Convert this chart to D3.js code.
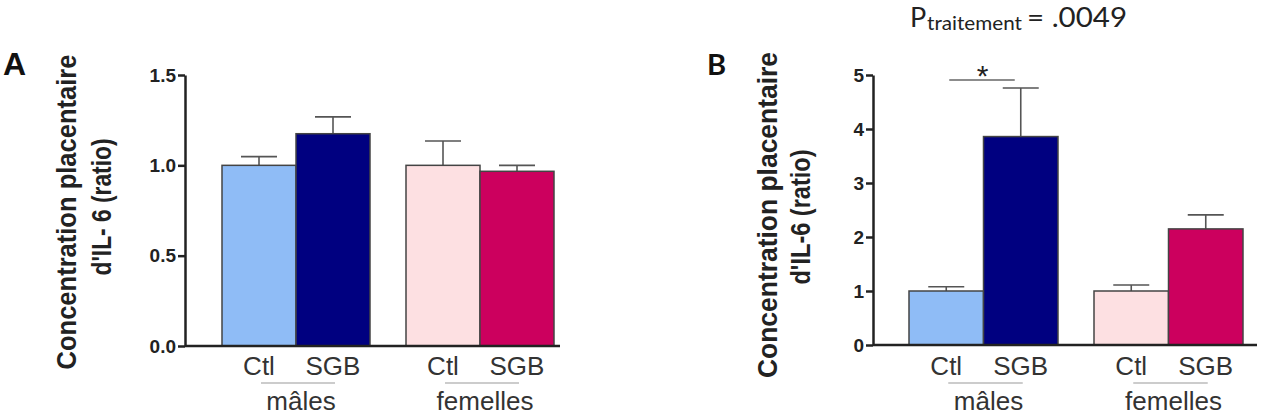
<!DOCTYPE html>
<html>
<head>
<meta charset="utf-8">
<script src="https://cdn.jsdelivr.net/npm/d3@7/dist/d3.min.js"></script>
<style>
  body { margin: 0; background: #fff; }
  svg { display: block; }
  .tick text { font-family: "Liberation Sans", Arial, sans-serif; font-weight: bold; font-size: 19px; fill: #222; }
</style>
</head>
<body>
<svg id="chart" width="1287" height="420"></svg>
<script>
  // data
  var groups = ["mâles", "femelles"];
  var conditions = ["Ctl", "SGB"];
  var colors = {
    "mâles": ["#8fbcf6", "#000080"],
    "femelles": ["#fde0e2", "#cc005e"]
  };

  // panel A : IL-6 ratio
  var meansA = [[1.0, 1.175], [1.0, 0.967]];
  var errA = [[1.048, 1.268], [1.135, 1.0]];
  var ticksA = [0, 0.5, 1.0, 1.5];

  // panel B : IL-6 ratio
  var meansB = [[1.0, 3.86], [1.0, 2.15]];
  var errB = [[1.08, 4.76], [1.11, 2.41]];
  var ticksB = [0, 1, 2, 3, 4, 5];

  var svg = d3.select("#chart");
  var font = '"Liberation Sans", Arial, sans-serif';

  function drawPanel(opt) {
    var g = svg.append("g");

    // y scale
    var y = d3.scaleLinear()
      .domain([0, opt.ticks[opt.ticks.length - 1]])
      .range([opt.y0, opt.y1]);

    // groups then conditions inside
    var step = opt.bw * 2 + opt.gap;
    var xg = d3.scaleBand()
      .domain(groups)
      .range([opt.x0, opt.x0 + step * (2 - opt.gap / step + 2 * opt.left / step)])
      .paddingInner(opt.gap / step)
      .paddingOuter(opt.left / step);
    var xc = d3.scaleBand()
      .domain(conditions)
      .range([0, xg.bandwidth()]);

    // error bars (upper only)
    groups.forEach(function(grp, gi) {
      conditions.forEach(function(c, ci) {
        var cx = xg(grp) + xc(c) + xc.bandwidth() / 2;
        g.append("line")
          .attr("x1", cx).attr("x2", cx)
          .attr("y1", y(opt.means[gi][ci])).attr("y2", y(opt.err[gi][ci]))
          .attr("stroke", "#555").attr("stroke-width", 1.6);
        g.append("line")
          .attr("x1", cx - 18).attr("x2", cx + 18)
          .attr("y1", y(opt.err[gi][ci])).attr("y2", y(opt.err[gi][ci]))
          .attr("stroke", "#555").attr("stroke-width", 1.6);
      });
    });

    // bars
    groups.forEach(function(grp, gi) {
      g.selectAll(null)
        .data(conditions)
        .enter().append("rect")
        .attr("x", function(c) { return xg(grp) + xc(c); })
        .attr("width", xc.bandwidth())
        .attr("y", function(c, ci) { return y(opt.means[gi][ci]); })
        .attr("height", function(c, ci) { return y(0) - y(opt.means[gi][ci]); })
        .attr("fill", function(c, ci) { return colors[grp][ci]; })
        .attr("stroke", "#444")
        .attr("stroke-width", 1.5);
    });

    // x axis baseline
    g.append("line")
      .attr("x1", opt.x0).attr("x2", opt.xEnd)
      .attr("y1", y(0)).attr("y2", y(0))
      .attr("stroke", "#222").attr("stroke-width", 2.5);

    // y axis
    var ya = g.append("g")
      .attr("transform", "translate(" + opt.x0 + ",0)")
      .call(d3.axisLeft(y).tickValues(opt.ticks).tickFormat(opt.fmt).tickSize(7).tickSizeOuter(0).tickPadding(2));
    ya.select(".domain").attr("stroke", "#222").attr("stroke-width", 2.5);
    ya.selectAll(".tick line").attr("stroke", "#222").attr("stroke-width", 2.5);

    // category labels
    groups.forEach(function(grp) {
      conditions.forEach(function(c) {
        g.append("text")
          .attr("x", xg(grp) + xc(c) + xc.bandwidth() / 2)
          .attr("y", 375)
          .attr("text-anchor", "middle")
          .style("font-family", font).style("font-size", "26px").style("fill", "#333")
          .text(c);
      });
      var mid = xg(grp) + xg.bandwidth() / 2 + 2;
      g.append("line")
        .attr("x1", mid - xc.bandwidth() / 2).attr("x2", mid + xc.bandwidth() / 2)
        .attr("y1", 383).attr("y2", 383)
        .attr("stroke", "#bbb").attr("stroke-width", 1.5);
      g.append("text")
        .attr("x", mid + 3)
        .attr("y", 410)
        .attr("text-anchor", "middle")
        .style("font-family", font).style("font-size", "26px").style("fill", "#333")
        .text(grp);
    });

    // y title, two lines
    opt.title.forEach(function(t, i) {
      g.append("text")
        .attr("transform", "translate(" + opt.titleX[i] + "," + opt.titleY[i] + ") rotate(-90)")
        .attr("text-anchor", "middle")
        .attr("textLength", opt.titleLen[i])
        .attr("lengthAdjust", "spacingAndGlyphs")
        .style("font-family", font).style("font-weight", "bold").style("font-size", "27px").style("fill", "#222")
        .text(t);
    });

    // panel letter
    g.append("text")
      .attr("x", opt.letterX).attr("y", 75)
      .style("font-family", opt.letterFont).style("font-weight", "bold").style("font-size", opt.letterSize).style("fill", "#111")
      .text(opt.letter);

    return { g: g, x: function(grp, c) { return xg(grp) + xc(c) + xc.bandwidth() / 2; }, y: y };
  }

  drawPanel({
    x0: 185, xEnd: 560, y0: 346, y1: 75, bw: 74, gap: 36, left: 37,
    means: meansA, err: errA, ticks: ticksA, fmt: d3.format(".1f"),
    title: ["Concentration placentaire", "d'IL- 6 (ratio)"],
    titleX: [76, 111], titleY: [212, 207], titleLen: [315, 137],
    letter: "A", letterX: 3, letterFont: font, letterSize: "32px"
  });

  var pb = drawPanel({
    x0: 873, xEnd: 1257, y0: 345, y1: 75, bw: 74.5, gap: 36, left: 36,
    means: meansB, err: errB, ticks: ticksB, fmt: d3.format("d"),
    title: ["Concentration placentaire", "d'IL-6 (ratio)"],
    titleX: [777, 810], titleY: [215, 217], titleLen: [326, 135],
    letter: "B", letterX: 707, letterFont: "Lato, sans-serif", letterSize: "29px"
  });

  // significance bar
  var sx1 = pb.x("mâles", "Ctl"), sx2 = pb.x("mâles", "SGB");
  pb.g.append("line")
    .attr("x1", sx1 + 3).attr("x2", sx2 - 6)
    .attr("y1", 80).attr("y2", 80)
    .attr("stroke", "#666").attr("stroke-width", 1.6);
  pb.g.append("text")
    .attr("x", (sx1 + sx2) / 2 - 1)
    .attr("y", 86)
    .attr("text-anchor", "middle")
    .style("font-family", font).style("font-size", "30px").style("fill", "#222")
    .text("*");

  // p-value
  var pfont = "Lato, sans-serif";
  svg.append("text")
    .attr("x", 910).attr("y", 27)
    .style("font-family", pfont).style("font-size", "27px").style("fill", "#222")
    .text("P");
  svg.append("text")
    .attr("x", 927).attr("y", 30)
    .attr("textLength", 95).attr("lengthAdjust", "spacingAndGlyphs")
    .style("font-family", pfont).style("font-size", "20px").style("fill", "#222")
    .text("traitement");
  svg.append("text")
    .attr("x", 1027).attr("y", 27)
    .attr("textLength", 100).attr("lengthAdjust", "spacingAndGlyphs")
    .style("font-family", pfont).style("font-size", "27px").style("fill", "#222")
    .text("= .0049");
</script>
</body>
</html>
